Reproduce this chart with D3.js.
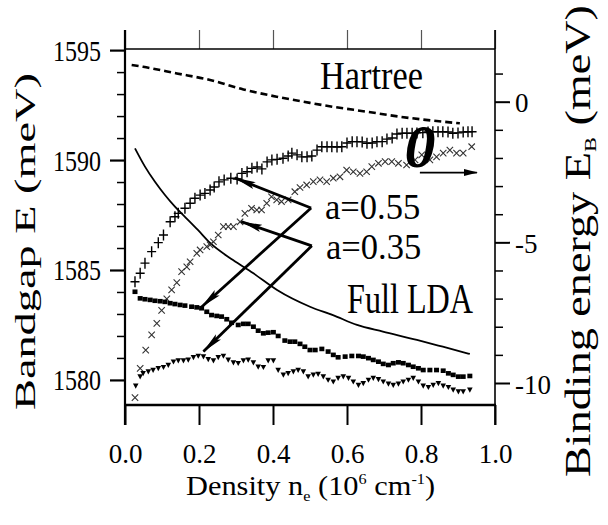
<!DOCTYPE html>
<html><head><meta charset="utf-8">
<script src="https://cdn.jsdelivr.net/npm/d3@7"></script>
<style>
body{margin:0;background:#fff}
svg{display:block}
</style>
</head><body>
<svg id="c" width="608" height="525"></svg>
<script>
// ---------- tick values ----------
const xTicks = [0, 0.2, 0.4, 0.6, 0.8, 1.0];
const leftMajor = [1580, 1585, 1590, 1595];
const leftMinor = [1581,1582,1583,1584,1586,1587,1588,1589,1591,1592,1593,1594];
const rightMajor = [0, -5, -10];
const rightMinor = [1,-1,-2,-3,-4,-6,-7,-8,-9];

// ---------- series (left axis: bandgap, meV) ----------
const hartreeX = [0.018,0.049,0.140,0.230,0.320,0.410,0.500,0.563,0.653,0.743,0.833,0.905];
const hartreeE = [1594.32,1594.24,1593.94,1593.64,1593.21,1592.88,1592.60,1592.42,1592.20,1591.97,1591.79,1591.67];

const ldaX = [0.027,0.054,0.081,0.108,0.135,0.162,0.197,0.230,0.292,0.346,0.411,0.500,0.562,0.627,0.697,0.789,0.859,0.932];
const ldaE = [1590.53,1589.70,1589.01,1588.41,1587.88,1587.42,1586.82,1586.23,1585.45,1584.86,1584.09,1583.33,1582.95,1582.50,1582.20,1581.82,1581.51,1581.18];

const sqX = [0.027,0.041,0.054,0.068,0.081,0.095,0.108,0.122,0.135,0.149,
             0.162,0.180,0.194,0.207,0.221,0.234,0.248,0.261,0.275,0.288,
             0.306,0.320,0.333,0.347,0.360,0.374,0.387,0.401,0.414,0.432,
             0.446,0.459,0.473,0.486,0.500,0.514,0.532,0.549,0.563,0.576,
             0.595,0.613,0.631,0.644,0.658,0.671,0.685,0.698,0.712,0.725,
             0.739,0.752,0.766,0.779,0.793,0.806,0.824,0.842,0.860,0.874,
             0.887,0.901,0.914,0.932];
const sqE = [1584.01,1583.71,1583.67,1583.64,1583.60,1583.58,1583.55,1583.49,1583.45,1583.41,
             1583.38,1583.33,1583.30,1583.26,1583.10,1582.95,1582.91,1582.88,1582.76,1582.60,
             1582.50,1582.55,1582.55,1582.42,1582.24,1582.12,1582.15,1582.17,1582.00,1581.79,
             1581.74,1581.74,1581.64,1581.51,1581.36,1581.36,1581.41,1581.29,1581.14,1581.03,
             1581.06,1581.09,1581.09,1581.06,1580.99,1580.91,1580.83,1580.73,1580.68,1580.76,
             1580.80,1580.76,1580.68,1580.60,1580.53,1580.45,1580.45,1580.45,1580.42,1580.30,
             1580.23,1580.15,1580.15,1580.18];

const triX = [0.029,0.041,0.049,0.063,0.076,0.090,0.104,0.117,0.131,0.144,
              0.158,0.171,0.185,0.198,0.212,0.225,0.239,0.252,0.266,0.279,
              0.293,0.306,0.320,0.333,0.347,0.360,0.374,0.387,0.401,0.414,
              0.428,0.441,0.455,0.468,0.482,0.495,0.509,0.522,0.536,0.549,
              0.563,0.576,0.590,0.604,0.617,0.631,0.644,0.658,0.671,0.685,
              0.698,0.712,0.725,0.739,0.752,0.766,0.779,0.793,0.806,0.820,
              0.833,0.847,0.860,0.874,0.887,0.901,0.914,0.932];
const triE = [1579.73,1580.15,1580.30,1580.38,1580.45,1580.53,1580.58,1580.68,1580.83,1580.88,
              1580.88,1580.91,1581.03,1581.09,1581.06,1580.94,1580.88,1581.03,1581.09,1580.91,
              1580.79,1580.76,1580.88,1580.91,1580.79,1580.60,1580.58,1580.88,1580.88,1580.45,
              1580.23,1580.30,1580.38,1580.45,1580.38,1580.15,1580.23,1580.27,1580.15,1580.00,
              1579.92,1580.08,1580.15,1580.08,1579.92,1579.77,1579.85,1580.00,1580.08,1580.03,
              1579.92,1579.82,1579.77,1579.82,1579.92,1580.00,1580.08,1579.92,1579.73,1579.67,
              1579.77,1579.85,1579.73,1579.67,1579.55,1579.47,1579.47,1579.55];

// ---------- series (right axis: binding energy, meV) ----------
const plusX = [0.027,0.041,0.054,0.072,0.090,0.104,0.122,0.135,0.144,0.162,
               0.176,0.189,0.203,0.216,0.230,0.241,0.254,0.268,0.286,0.303,
               0.316,0.330,0.343,0.357,0.370,0.384,0.397,0.411,0.427,0.441,
               0.451,0.465,0.478,0.492,0.505,0.519,0.532,0.546,0.559,0.573,
               0.586,0.600,0.614,0.627,0.641,0.654,0.668,0.681,0.695,0.708,
               0.722,0.735,0.749,0.762,0.776,0.789,0.805,0.819,0.832,0.846,
               0.859,0.873,0.886,0.900,0.914,0.927,0.938];
const plusB = [-6.40,-6.10,-5.74,-5.33,-5.01,-4.74,-4.27,-4.09,-3.97,-3.79,
               -3.61,-3.43,-3.32,-3.26,-3.14,-3.03,-2.85,-2.78,-2.72,-2.75,
               -2.55,-2.49,-2.37,-2.32,-2.39,-2.14,-2.07,-2.05,-2.01,-1.93,
               -1.83,-1.89,-1.96,-1.96,-1.93,-1.72,-1.60,-1.60,-1.60,-1.61,
               -1.60,-1.47,-1.42,-1.42,-1.43,-1.48,-1.47,-1.42,-1.42,-1.33,
               -1.29,-1.15,-1.12,-1.12,-1.12,-1.11,-1.10,-1.08,-1.07,-1.07,
               -1.07,-1.08,-1.12,-1.11,-1.08,-1.07,-1.07];

const crossX = [0.027,0.041,0.056,0.072,0.086,0.099,0.113,0.126,0.140,0.153,
                0.167,0.176,0.194,0.203,0.221,0.230,0.239,0.252,0.266,0.279,
                0.293,0.311,0.324,0.342,0.356,0.369,0.383,0.396,0.410,0.423,
                0.441,0.459,0.473,0.491,0.509,0.527,0.545,0.563,0.581,0.599,
                0.617,0.635,0.653,0.667,0.685,0.703,0.721,0.739,0.761,0.784,
                0.802,0.824,0.842,0.860,0.878,0.896,0.914,0.937];
const crossB = [-10.52,-9.48,-8.83,-8.29,-7.88,-7.42,-7.01,-6.69,-6.43,-6.04,
                -5.87,-5.69,-5.39,-5.27,-5.15,-5.09,-4.98,-4.74,-4.44,-4.44,
                -4.44,-4.27,-3.97,-3.79,-3.85,-3.85,-3.61,-3.38,-3.49,-3.55,
                -3.49,-3.20,-3.05,-2.96,-2.84,-2.78,-2.84,-2.72,-2.67,-2.43,
                -2.49,-2.55,-2.49,-2.31,-2.19,-2.13,-2.13,-2.19,-2.25,-2.07,
                -1.89,-2.07,-1.96,-1.83,-1.72,-1.83,-1.83,-1.60];

// ---------- annotation anchors (data units: density, bandgap) ----------
const arrows = [
  {from:[0.503,1587.82], to:[0.297,1589.19]},
  {from:[0.503,1587.82], to:[0.207,1583.32]},
  {from:[0.505,1586.10], to:[0.314,1587.20]},
  {from:[0.505,1586.10], to:[0.212,1581.29]}
];
const thetaArrow = {from:[0.797,1589.43], to:[0.951,1589.43]};
const aLabels = ["a=0.55", "a=0.35"];

// ---------- layout ----------
const FONT = "'Liberation Serif', 'Times New Roman', serif";
const L=125, R=495, T=49, B=405;
const svg = d3.select("#c");
const x  = d3.scaleLinear().domain([0,1]).range([L,R]);
const yL = d3.scaleLinear().domain([1578.86,1595.05]).range([B,T]);
const yR = d3.scaleLinear().domain([-10.782,1.873]).range([B,T]);

const defs = svg.append("defs");
defs.append("marker").attr("id","ah").attr("markerUnits","userSpaceOnUse")
  .attr("viewBox","0 0 22 9").attr("markerWidth",22).attr("markerHeight",9)
  .attr("refX",21).attr("refY",4.5).attr("orient","auto")
  .append("path").attr("d","M0,0.8 L22,4.5 L0,8.2 L4,4.5 Z").attr("fill","#000");
defs.append("marker").attr("id","ah2").attr("markerUnits","userSpaceOnUse")
  .attr("viewBox","0 0 14 8").attr("markerWidth",14).attr("markerHeight",8)
  .attr("refX",13).attr("refY",4).attr("orient","auto")
  .append("path").attr("d","M0,0.5 L14,4 L0,7.5 Z").attr("fill","#000");

// ---------- axes ----------
function styleAxis(g){ g.attr("font-family",FONT); g.select(".domain").remove(); }

// bottom
const gB = svg.append("g").attr("transform",`translate(0,${B})`)
  .call(d3.axisBottom(x).tickValues(xTicks).tickSize(20).tickFormat(d3.format(".1f")));
styleAxis(gB);
gB.selectAll("line").attr("stroke","#000").attr("stroke-width",2);
gB.selectAll("text").attr("y",58).attr("dy",null).attr("font-size",27).attr("fill","#000");

// top
const gT = svg.append("g").attr("transform",`translate(0,${T})`)
  .call(d3.axisTop(x).tickValues(xTicks).tickSize(19).tickFormat(""));
styleAxis(gT);
gT.selectAll("line").attr("stroke","#555").attr("stroke-width",1.2);

// left
const gL = svg.append("g").attr("transform",`translate(${L},0)`)
  .call(d3.axisLeft(yL).tickValues(leftMajor).tickSize(15).tickFormat(d=>d));
styleAxis(gL);
gL.selectAll("line").attr("stroke","#000").attr("stroke-width",2.2);
gL.selectAll("text").attr("x",-24).attr("dy",null).attr("y",10).attr("font-size",28.5).attr("fill","#000")
  .attr("text-anchor","end").attr("textLength",48).attr("lengthAdjust","spacingAndGlyphs");
const gLm = svg.append("g").attr("transform",`translate(${L},0)`)
  .call(d3.axisLeft(yL).tickValues(leftMinor).tickSize(8).tickFormat(""));
styleAxis(gLm);
gLm.selectAll("line").attr("stroke","#000").attr("stroke-width",1.5);

// right
const gR = svg.append("g").attr("transform",`translate(${R},0)`)
  .call(d3.axisRight(yR).tickValues(rightMajor).tickSize(15).tickFormat(d=>String(d)));
styleAxis(gR);
gR.selectAll("line").attr("stroke","#000").attr("stroke-width",2);
gR.selectAll("text").attr("x",20).attr("dy",null).attr("y",10).attr("font-size",27).attr("fill","#000").attr("text-anchor","start");
const gRm = svg.append("g").attr("transform",`translate(${R},0)`)
  .call(d3.axisRight(yR).tickValues(rightMinor).tickSize(8).tickFormat(""));
styleAxis(gRm);
gRm.selectAll("line").attr("stroke","#000").attr("stroke-width",1.5);

// frame
const fr = svg.append("g").attr("stroke","#000").attr("fill","none");
fr.append("line").attr("x1",L).attr("x2",R).attr("y1",T).attr("y2",T).attr("stroke-width",1.3);
fr.append("line").attr("x1",L-1).attr("x2",R+1).attr("y1",B).attr("y2",B).attr("stroke-width",2.6);
fr.append("line").attr("x1",L).attr("x2",L).attr("y1",T-19).attr("y2",B+20).attr("stroke-width",2.2);
fr.append("line").attr("x1",R).attr("x2",R).attr("y1",T-19).attr("y2",B+20).attr("stroke-width",1.6);

// ---------- lines ----------
const lineL = d3.line().x(d=>x(d[0])).y(d=>yL(d[1])).curve(d3.curveMonotoneX);
svg.append("path").datum(d3.zip(hartreeX,hartreeE)).attr("d",lineL)
  .attr("fill","none").attr("stroke","#000").attr("stroke-width",2.6).attr("stroke-dasharray","7,4");
svg.append("path").datum(d3.zip(ldaX,ldaE)).attr("d",lineL)
  .attr("fill","none").attr("stroke","#000").attr("stroke-width",1.8);

// ---------- markers ----------
svg.append("g").selectAll("path").data(d3.zip(plusX,plusB)).join("path")
  .attr("transform",d=>`translate(${x(d[0])},${yR(d[1])})`)
  .attr("d","M-4.5,0H4.5M0,-5.5V5.5").attr("stroke","#000").attr("stroke-width",1.4).attr("fill","none");
svg.append("g").selectAll("path").data(d3.zip(crossX,crossB)).join("path")
  .attr("transform",d=>`translate(${x(d[0])},${yR(d[1])})`)
  .attr("d","M-3.2,-3.2L3.2,3.2M-3.2,3.2L3.2,-3.2").attr("stroke","#333").attr("stroke-width",1.1).attr("fill","none");
svg.append("g").selectAll("rect").data(d3.zip(sqX,sqE)).join("rect")
  .attr("x",d=>x(d[0])-2.5).attr("y",d=>yL(d[1])-2.3).attr("width",5).attr("height",4.6).attr("fill","#000");
svg.append("g").selectAll("path").data(d3.zip(triX,triE)).join("path")
  .attr("transform",d=>`translate(${x(d[0])},${yL(d[1])})`)
  .attr("d","M-2.8,-2.3L2.8,-2.3L0,2.9Z").attr("fill","#000");

// ---------- arrows ----------
svg.append("g").selectAll("line").data(arrows).join("line")
  .attr("x1",d=>x(d.from[0])).attr("y1",d=>yL(d.from[1]))
  .attr("x2",d=>x(d.to[0])).attr("y2",d=>yL(d.to[1]))
  .attr("stroke","#000").attr("stroke-width",2.8).attr("marker-end","url(#ah)");
svg.append("line")
  .attr("x1",x(thetaArrow.from[0])).attr("y1",yL(thetaArrow.from[1]))
  .attr("x2",x(thetaArrow.to[0])).attr("y2",yL(thetaArrow.to[1]))
  .attr("stroke","#000").attr("stroke-width",1.6).attr("marker-end","url(#ah2)");

// ---------- texts ----------
function txt(t,xp,yp,size,len,opts={}){
  const e = svg.append("text").attr("x",xp).attr("y",yp).attr("font-size",size)
    .attr("font-family",FONT).attr("fill","#000").text(t);
  if(len) e.attr("textLength",len).attr("lengthAdjust","spacingAndGlyphs");
  if(opts.anchor) e.attr("text-anchor",opts.anchor);
  if(opts.style) e.attr("font-style",opts.style);
  if(opts.weight) e.attr("font-weight",opts.weight);
  return e;
}
txt("Hartree",320,89,41,103);
txt("Full LDA",347,313,42,126);
txt("0",420,167,62,null,{anchor:"middle",style:"italic",weight:"bold"});

// two a= labels
aLabels.forEach((t,i)=>{
  svg.append("text").attr("transform",`translate(${i===0?325:326},${i===0?219:259}) scale(0.96,1)`)
    .attr("font-size",36).attr("font-family",FONT).attr("fill","#000").text(t);
});

// x title
const xt = svg.append("text").attr("transform","translate(186,495) scale(1.085,1)")
  .attr("font-size",28).attr("font-family",FONT).attr("fill","#000");
xt.append("tspan").text("Density n");
xt.append("tspan").attr("font-size",15).attr("dy",6).text("e");
xt.append("tspan").attr("dy",-6).text(" (10");
xt.append("tspan").attr("font-size",15).attr("dy",-11).text("6");
xt.append("tspan").attr("dy",11).text(" cm");
xt.append("tspan").attr("font-size",15).attr("dy",-11).text("-1");
xt.append("tspan").attr("dy",11).text(")");

// left title
svg.append("text").attr("transform","translate(35,241.5) rotate(-90)")
  .attr("text-anchor","middle").attr("font-size",30).attr("font-family",FONT).attr("fill","#000")
  .attr("textLength",337).attr("lengthAdjust","spacingAndGlyphs")
  .text("Bandgap E (meV)");

// right title
const rt = svg.append("text").attr("transform","translate(590,241) rotate(-90)")
  .attr("text-anchor","middle").attr("font-size",35).attr("font-family",FONT).attr("fill","#000")
  .attr("textLength",472).attr("lengthAdjust","spacingAndGlyphs");
rt.append("tspan").text("Binding energy E");
rt.append("tspan").attr("font-size",17).attr("dy",6).text("B");
rt.append("tspan").attr("dy",-6).text(" (meV)");
</script>
</body></html>
